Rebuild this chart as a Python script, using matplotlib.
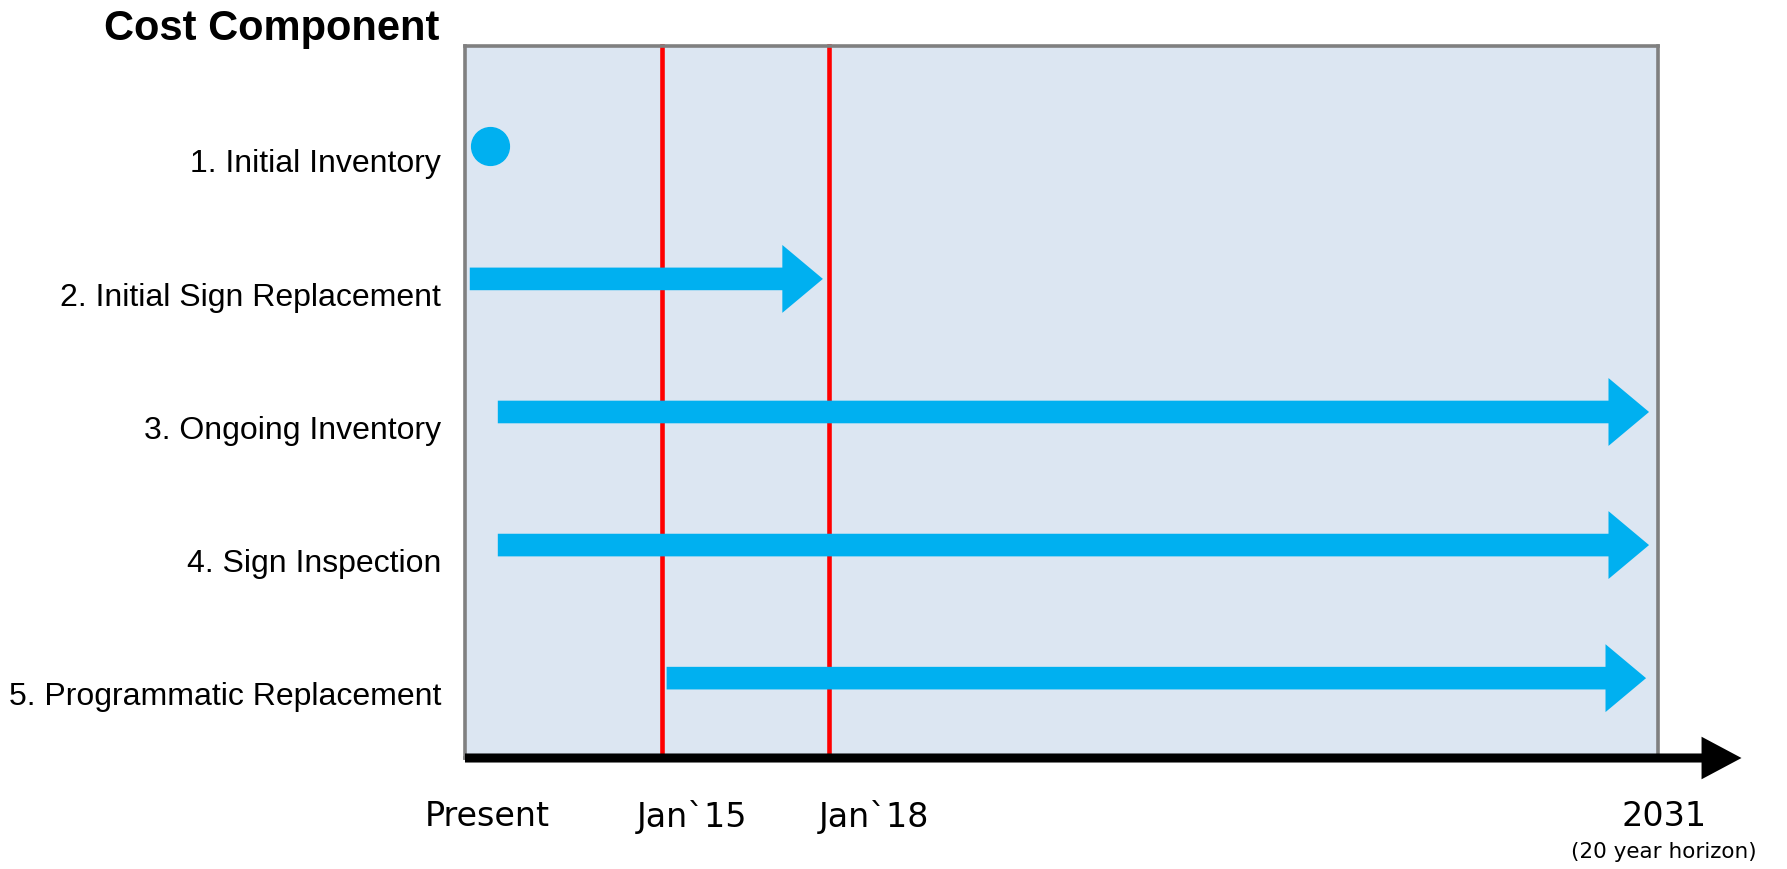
import numpy as np
import matplotlib.pyplot as plt
from matplotlib.patches import FancyArrow

# cost components and when each one runs (years from present)
components = ['1. Initial Inventory', '2. Initial Sign Replacement',
              '3. Ongoing Inventory', '4. Sign Inspection',
              '5. Programmatic Replacement']
starts = [0.42, 0.08, 0.55, 0.55, 3.38]
ends = [None, 6.0, 19.85, 19.85, 19.8]   # None -> one-off event

milestones = [3.3, 6.1]
tick_labels = ['Present', 'Jan`15', 'Jan`18', '2031']
tick_pos = [0.37, 3.8, 6.86, 20.1]

BLUE = '#00B0F0'

fig = plt.figure(figsize=(17.87, 8.69), dpi=100)
ax = fig.add_axes([465/1787, 111/869, (1658-465)/1787, (758-46)/869])
ax.set_facecolor('#DCE6F2')
ax.set_xlim(0, 20)
ymin, ymax = 0.25, 5.60
ax.set_ylim(ymax, ymin)
ax.set_xticks([])
ax.set_yticks([])
for sp in ax.spines.values():
    sp.set_color('#808080')
    sp.set_linewidth(2.6)

# milestone lines
for m in milestones:
    ax.plot([m, m], [ymin, ymax], color='#FF0000', lw=3.3, zorder=2, clip_on=False)

# component marks
for i, (name, s, e) in enumerate(zip(components, starts, ends)):
    row = i + 1
    if e is None:
        ax.scatter([s], [row], s=740, color=BLUE, zorder=3, clip_on=False)
    else:
        ax.add_patch(FancyArrow(s, row, e - s, 0, width=0.17, head_width=0.51,
                                head_length=0.68, length_includes_head=True,
                                color=BLUE, lw=0, zorder=3))
    ax.text(-0.40, row + 0.14, name, ha='right', va='center', fontsize=23,
            family='Liberation Sans', clip_on=False)

# time axis
ax.add_patch(FancyArrow(0, ymax, 21.4, 0, width=0.068, head_width=0.32,
                        head_length=0.67, length_includes_head=True,
                        color='black', lw=0, zorder=4, clip_on=False))

for lab, x in zip(tick_labels, tick_pos):
    ax.text(x, ymax + 0.44, lab, ha='center', va='center', fontsize=24,
            family='DejaVu Sans', clip_on=False)
ax.text(tick_pos[-1], ymax + 0.71, '(20 year horizon)', ha='center', va='center',
        fontsize=15.5, family='DejaVu Sans', clip_on=False)

fig.text(439/1787, 1 - 29/869, 'Cost Component', ha='right', va='center',
         fontsize=30, fontweight='bold', family='Liberation Sans')

fig.savefig('out.png', dpi=100)
